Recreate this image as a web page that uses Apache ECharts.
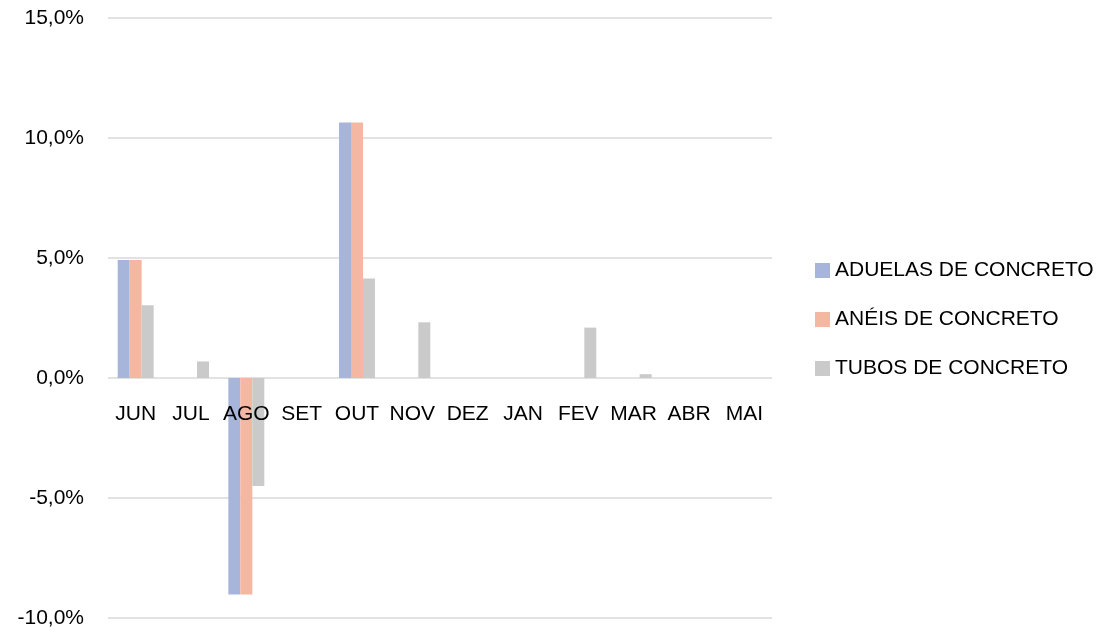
<!DOCTYPE html>
<html><head><meta charset="utf-8">
<script src="https://cdn.jsdelivr.net/npm/echarts@6/dist/echarts.min.js"></script>
<style>html,body{margin:0;padding:0;background:#fff}#c{width:1105px;height:636px}</style>
</head><body><div id="c"></div>
<script>
const categories = ['JUN','JUL','AGO','SET','OUT','NOV','DEZ','JAN','FEV','MAR','ABR','MAI'];
const seriesNames = ['ADUELAS DE CONCRETO','ANÉIS DE CONCRETO','TUBOS DE CONCRETO'];
const aduelas = [4.92, 0, -9.02, 0, 10.65, 0, 0, 0, 0, 0, 0, 0];
const aneis   = [4.92, 0, -9.02, 0, 10.65, 0, 0, 0, 0, 0, 0, 0];
const tubos   = [3.03, 0.69, -4.5, 0, 4.15, 2.32, 0, 0, 2.1, 0.16, 0, 0];
const yTicks = {min: -10, max: 15, interval: 5};
const colors = ['#A7B5DB', '#F4B7A1', '#CACACA'];
const font = 'Liberation Sans, Arial, sans-serif';

const chart = echarts.init(document.getElementById('c'));
const data = [aduelas, aneis, tubos];
chart.setOption({
  animation: false,
  color: colors,
  grid: {left: 108, right: 333, top: 18, bottom: 18, containLabel: false, outerBoundsMode: 'none'},
  legend: {
    orient: 'vertical', left: 810, top: 255, itemWidth: 15, itemHeight: 15, itemGap: 28,
    icon: 'rect', padding: 5,
    textStyle: {fontFamily: font, fontSize: 21, color: '#000'},
    data: seriesNames
  },
  xAxis: {
    type: 'category', data: categories, position: 'bottom', offset: -240, z: 10,
    axisLine: {show: false, onZero: false},
    axisTick: {show: false},
    axisLabel: {fontFamily: font, fontSize: 21, color: '#000', margin: 26, interval: 0}
  },
  yAxis: {
    type: 'value', min: yTicks.min, max: yTicks.max, interval: yTicks.interval,
    axisLine: {show: false}, axisTick: {show: false},
    splitLine: {lineStyle: {color: '#D9D9D9', width: 1.5}},
    axisLabel: {fontFamily: font, fontSize: 21, color: '#000', margin: 24,
      formatter: v => v.toFixed(1).replace('.', ',') + '%'}
  },
  series: seriesNames.map((n, i) => ({
    name: n, type: 'bar', data: data[i], barGap: '0%', barCategoryGap: '35%',
    itemStyle: {color: colors[i]}
  }))
});
</script></body></html>
